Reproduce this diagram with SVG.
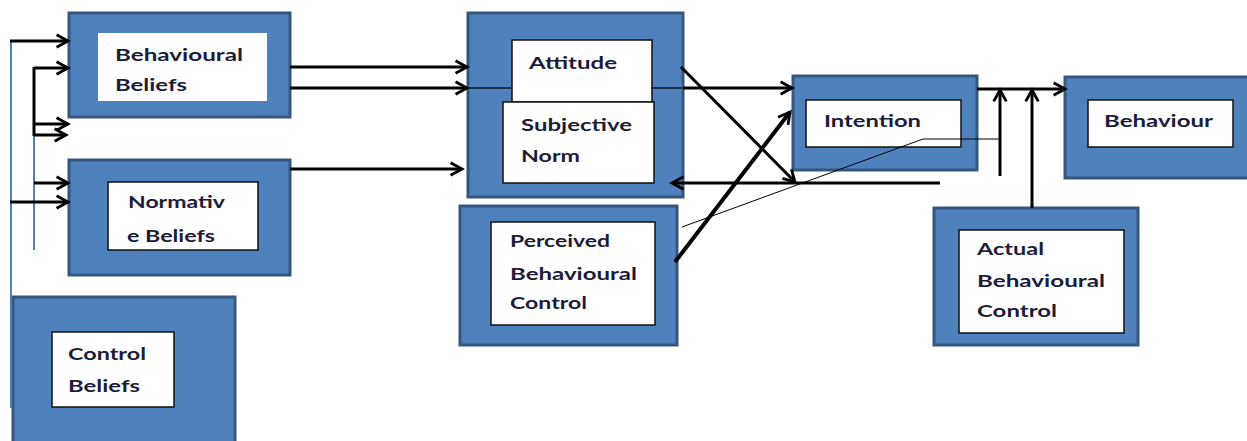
<svg xmlns="http://www.w3.org/2000/svg" width="1247" height="441" viewBox="0 0 1247 441">
<style>
.outer{fill:#4f81bd;stroke:#34567f;stroke-width:3}
.inner{fill:#fff;stroke:#111;stroke-width:1.5}
.t{font-family:Lato,"Liberation Sans",sans-serif;font-weight:700;font-size:17px;fill:#1c1c3a}
.c{stroke:#000;stroke-width:3;fill:none}
.a{marker-end:url(#arr)}
.thin{stroke:#000;stroke-width:1;fill:none}
.blue{stroke:#4f81bd;stroke-width:2;fill:none}
</style>
<defs>
<marker id="arr" markerUnits="userSpaceOnUse" markerWidth="16" markerHeight="16" refX="11" refY="6" orient="auto" viewBox="0 0 14 12">
<path d="M1,0.5 L11,6 L1,11.5" fill="none" stroke="#000" stroke-width="2.5"/>
</marker>
</defs>
<rect width="1247" height="441" fill="#fff"/>
<g id="behavioural-beliefs">
<rect class="outer" x="69" y="13" width="221" height="104"/>
<rect class="inner" x="98" y="33" width="169" height="68" style="stroke:none"/>
<text class="t" x="115" y="61" textLength="128" lengthAdjust="spacingAndGlyphs">Behavioural</text>
<text class="t" x="115" y="91" textLength="72" lengthAdjust="spacingAndGlyphs">Beliefs</text>
</g>
<g id="normative-beliefs">
<rect class="outer" x="69" y="160" width="221" height="115"/>
<rect class="inner" x="108" y="182" width="150" height="68"/>
<text class="t" x="128" y="208" textLength="97" lengthAdjust="spacingAndGlyphs">Normativ</text>
<text class="t" x="127" y="242" textLength="88" lengthAdjust="spacingAndGlyphs">e Beliefs</text>
</g>
<g id="control-beliefs">
<rect class="outer" x="13" y="297" width="222" height="146"/>
<rect class="inner" x="52" y="332" width="122" height="75"/>
<text class="t" x="68" y="360" textLength="78" lengthAdjust="spacingAndGlyphs">Control</text>
<text class="t" x="68" y="392" textLength="72" lengthAdjust="spacingAndGlyphs">Beliefs</text>
</g>
<g id="attitude-subjective-norm">
<rect class="outer" x="468" y="13" width="215" height="184"/>
<line x1="468" y1="88" x2="683" y2="88" stroke="#1f3350" stroke-width="2"/>
<rect class="inner" x="512" y="40" width="140" height="62"/>
<rect class="inner" x="503" y="102" width="151" height="81"/>
<text class="t" x="529" y="69" textLength="88" lengthAdjust="spacingAndGlyphs">Attitude</text>
<text class="t" x="521" y="131" textLength="111" lengthAdjust="spacingAndGlyphs">Subjective</text>
<text class="t" x="521" y="162" textLength="59" lengthAdjust="spacingAndGlyphs">Norm</text>
</g>
<g id="perceived-behavioural-control">
<rect class="outer" x="460" y="206" width="217" height="139"/>
<rect class="inner" x="491" y="222" width="164" height="103"/>
<text class="t" x="510" y="247" textLength="100" lengthAdjust="spacingAndGlyphs">Perceived</text>
<text class="t" x="510" y="280" textLength="127" lengthAdjust="spacingAndGlyphs">Behavioural</text>
<text class="t" x="510" y="309" textLength="77" lengthAdjust="spacingAndGlyphs">Control</text>
</g>
<g id="intention">
<rect class="outer" x="793" y="76" width="184" height="94"/>
<rect class="inner" x="806" y="100" width="155" height="47"/>
<text class="t" x="824" y="127" textLength="97" lengthAdjust="spacingAndGlyphs">Intention</text>
</g>
<g id="behaviour">
<rect class="outer" x="1065" y="77" width="185" height="101"/>
<rect class="inner" x="1088" y="100" width="145" height="47"/>
<text class="t" x="1104" y="127" textLength="109" lengthAdjust="spacingAndGlyphs">Behaviour</text>
</g>
<g id="actual-behavioural-control">
<rect class="outer" x="934" y="208" width="204" height="137"/>
<rect class="inner" x="959" y="230" width="165" height="103"/>
<text class="t" x="977" y="255" textLength="67" lengthAdjust="spacingAndGlyphs">Actual</text>
<text class="t" x="977" y="287" textLength="128" lengthAdjust="spacingAndGlyphs">Behavioural</text>
<text class="t" x="977" y="317" textLength="80" lengthAdjust="spacingAndGlyphs">Control</text>
</g>
<g id="connectors">
<line class="blue" x1="11" y1="41" x2="11" y2="408"/>
<line class="blue" x1="34" y1="68" x2="34" y2="250"/>
<line class="c" x1="34" y1="67" x2="34" y2="136"/>
<line class="c a" x1="10" y1="41" x2="68" y2="41"/>
<line class="c a" x1="34" y1="68" x2="68" y2="68"/>
<line class="c a" x1="34" y1="124" x2="68" y2="124"/>
<line class="c a" x1="34" y1="135" x2="66" y2="135"/>
<line class="c a" x1="34" y1="183" x2="68" y2="183"/>
<line class="c a" x1="10" y1="202" x2="68" y2="202"/>
<line class="c a" x1="290" y1="67" x2="467" y2="67"/>
<line class="c a" x1="290" y1="88" x2="467" y2="88"/>
<line class="c a" x1="290" y1="169" x2="462" y2="169"/>
<line class="c a" x1="683" y1="88" x2="792" y2="88"/>
<line class="c a" x1="681" y1="67" x2="795" y2="182"/>
<line class="c a" x1="940" y1="183" x2="672" y2="183"/>
<line class="c a" x1="675" y1="262" x2="790" y2="112" style="stroke-width:4"/>
<polyline class="thin" points="682,227 923,139 1000,139"/>
<line class="c a" x1="977" y1="89" x2="1065" y2="89"/>
<line class="c a" x1="1000" y1="176" x2="1000" y2="90"/>
<line class="c a" x1="1032" y1="208" x2="1032" y2="90"/>
</g>
</svg>
